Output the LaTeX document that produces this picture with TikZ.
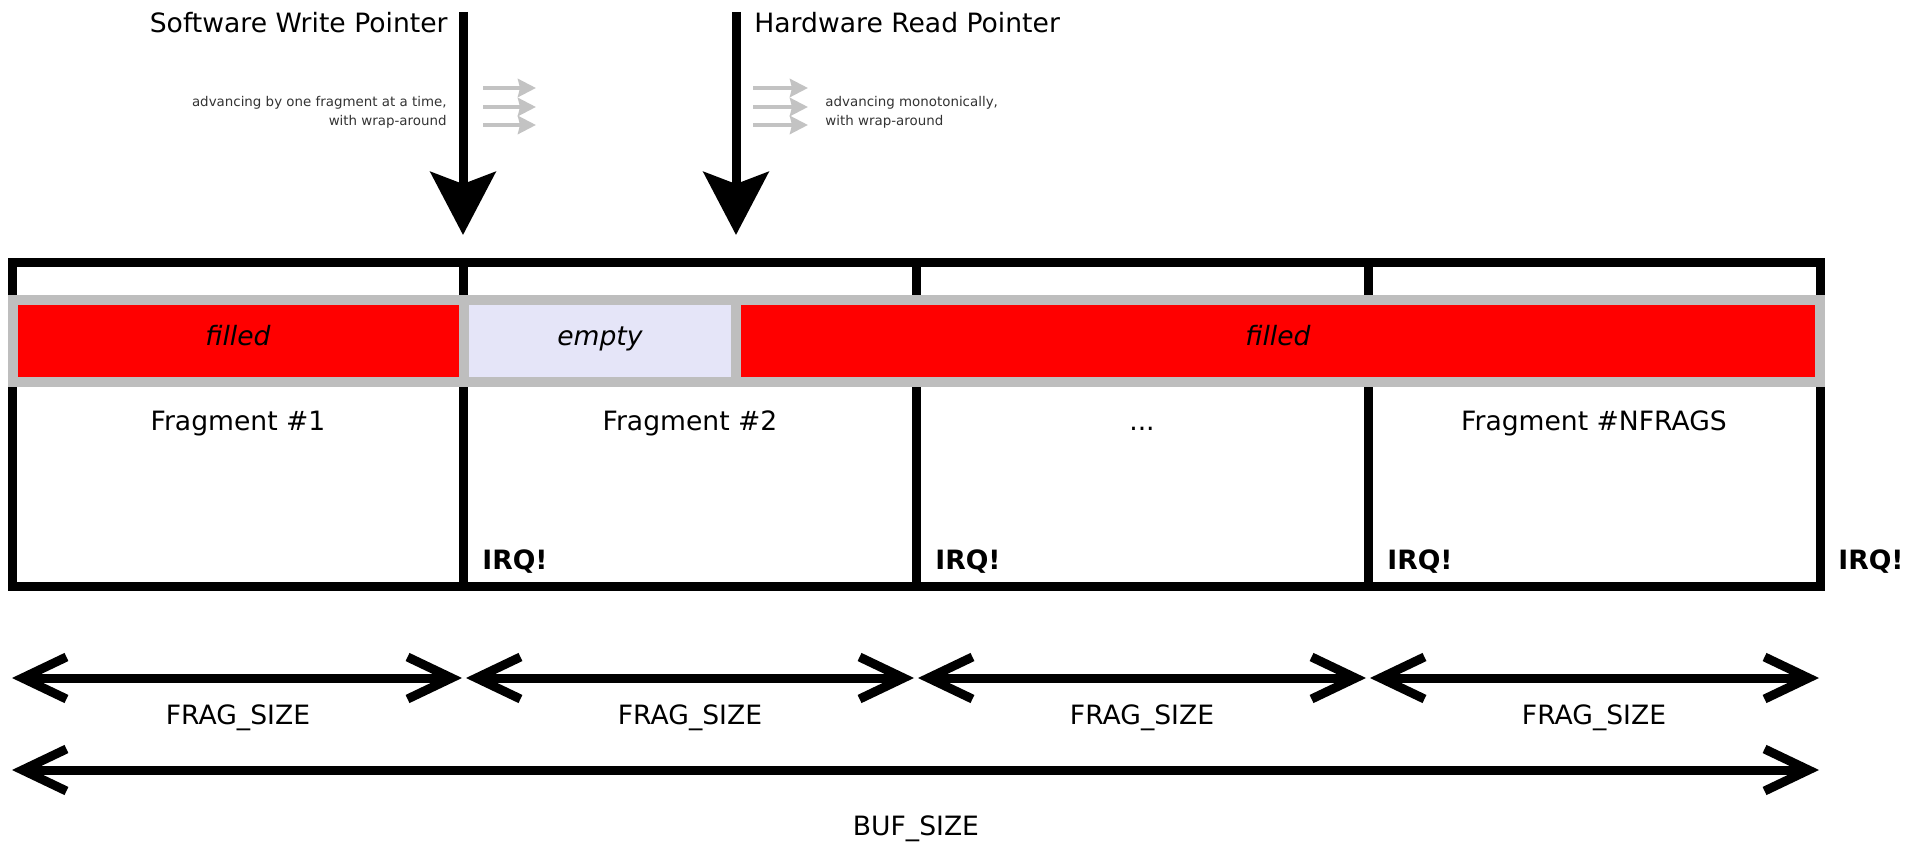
\documentclass[tikz,border=0pt]{standalone}
\usepackage{fontspec}
\setmainfont{DejaVu Sans}
\usetikzlibrary{arrows.meta, positioning}
\usepackage{xcolor}
\definecolor{fillred}{RGB}{255,0,0}
\definecolor{emptyblue}{RGB}{229,229,248}
\definecolor{bandgrey}{RGB}{190,190,190}
\definecolor{hintgrey}{RGB}{195,195,195}

\tikzset{
  biglbl/.style={font=\fontsize{13.3}{16}\selectfont, inner sep=0pt},
  smalllbl/.style={font=\fontsize{6.7}{9.5}\selectfont, text=black!80, inner sep=0pt},
  irqlbl/.style={font=\fontsize{13.3}{16}\selectfont\bfseries, inner sep=0pt, anchor=base west},
  pointer/.style={line width=4.5pt, -{Stealth[length=31.5pt, width=32.5pt, inset=6pt]}},
  hint/.style={hintgrey, line width=2pt, -{Stealth[length=9pt, width=9pt, inset=1pt]}},
  span/.style={line width=4.5pt, {Straight Barb[length=22pt, width=21pt]}-{Straight Barb[length=22pt, width=21pt]}},
  band/.style={draw=bandgrey, line width=5pt},
}

\begin{document}
\begin{tikzpicture}[x=0.5pt, y=-0.5pt]
  \useasboundingbox (0,0) rectangle (1922,844);

  % pointers
  \coordinate (swtop) at (463,12);
  \coordinate (swtip) at (463,235);
  \coordinate (hwtop) at (736,12);
  \coordinate (hwtip) at (736,235);
  \draw[pointer] (swtop) -- (swtip);
  \draw[pointer] (hwtop) -- (hwtip);
  \node[biglbl, anchor=base east] (swlbl) at (448,33) {Software Write Pointer};
  \node[biglbl, anchor=base west] (hwlbl) at (754,33) {Hardware Read Pointer};

  % how they move
  \node[smalllbl, anchor=base east, align=right] (swnote) at (447,126) {advancing by one fragment at a time,\\with wrap-around};
  \node[smalllbl, anchor=base west, align=left] (hwnote) at (825,126) {advancing monotonically,\\with wrap-around};
  \foreach \y in {88,107,125} {
    \draw[hint] (483,\y) -- (536,\y);
    \draw[hint] (753,\y) -- (808,\y);
  }

  % buffer and fragments
  \draw[line width=4.5pt] (12.5,263) rectangle (1820,586);
  \foreach \x in {463,916,1368}
    \draw[line width=4.5pt] (\x,263) -- (\x,586);

  % fill state
  \draw[band, fill=fillred] (12.5,300) rectangle (464,382);
  \draw[band, fill=emptyblue] (464,300) rectangle (736,382);
  \draw[band, fill=fillred] (736,300) rectangle (1819.5,382);
  \node[biglbl, anchor=base, font=\fontsize{13.3}{16}\selectfont\itshape] (filled1) at (238,346) {filled};
  \node[biglbl, anchor=base, font=\fontsize{13.3}{16}\selectfont\itshape] (empty) at (600,346) {empty};
  \node[biglbl, anchor=base, font=\fontsize{13.3}{16}\selectfont\itshape] (filled2) at (1278,346) {filled};

  \node[biglbl, anchor=base] (frag1) at (238,430) {Fragment \#1};
  \node[biglbl, anchor=base] (frag2) at (690,430) {Fragment \#2};
  \node[biglbl, anchor=base] (fragn) at (1142,430) {...};
  \node[biglbl, anchor=base] (fraglast) at (1594,430) {Fragment \#NFRAGS};

  \node[irqlbl] (irq1) at (482,569) {IRQ!};
  \node[irqlbl] (irq2) at (935,569) {IRQ!};
  \node[irqlbl] (irq3) at (1387,569) {IRQ!};
  \node[irqlbl] (irq4) at (1838,569) {IRQ!};

  % sizes
  \coordinate (s0) at (12,678);
  \coordinate (s1) at (464,678);
  \coordinate (s2) at (916,678);
  \coordinate (s3) at (1368,678);
  \coordinate (s4) at (1819,678);
  \draw[span] (s0) -- ([xshift=-1pt]s1);
  \draw[span] ([xshift=1pt]s1) -- ([xshift=-1pt]s2);
  \draw[span] ([xshift=1pt]s2) -- ([xshift=-1pt]s3);
  \draw[span] ([xshift=1pt]s3) -- (s4);
  \node[biglbl, anchor=base] (fs1) at (238,724) {FRAG\_SIZE};
  \node[biglbl, anchor=base] (fs2) at (690,724) {FRAG\_SIZE};
  \node[biglbl, anchor=base] (fs3) at (1142,724) {FRAG\_SIZE};
  \node[biglbl, anchor=base] (fs4) at (1594,724) {FRAG\_SIZE};

  \coordinate (b0) at (12,770);
  \coordinate (b1) at (1819,770);
  \draw[span] (b0) -- (b1);
  \node[biglbl, anchor=base] (bufsize) at (916,835) {BUF\_SIZE};
\end{tikzpicture}
\end{document}
